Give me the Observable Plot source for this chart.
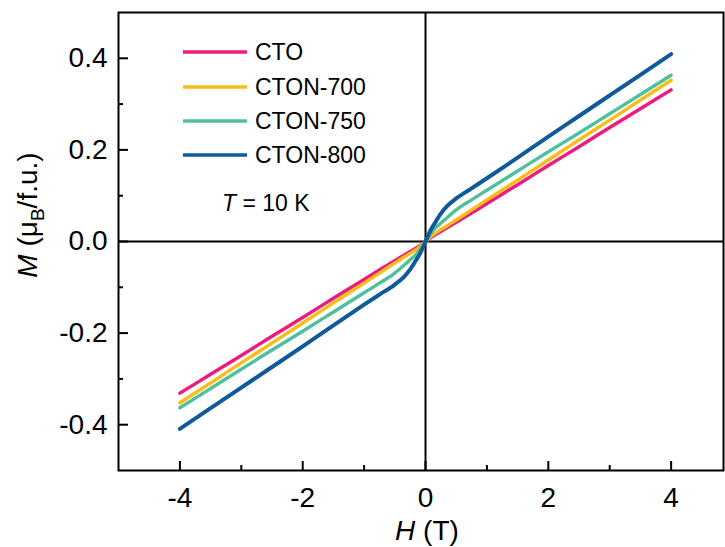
<!DOCTYPE html>
<html><head><meta charset="utf-8">
<script src="https://cdn.jsdelivr.net/npm/d3@7"></script>
<script src="https://cdn.jsdelivr.net/npm/@observablehq/plot@0.6"></script>
<style>body{margin:0;background:#fff;} svg{display:block;}</style>
</head><body><div id="chart"></div>
<script>
const H = [-4,-3.5,-3,-2.5,-2,-1.5,-1,-0.75,-0.5,-0.35,-0.25,-0.15,-0.08,0,0.08,0.15,0.25,0.35,0.5,0.75,1,1.5,2,2.5,3,3.5,4];
const M_CTO = [-0.331,-0.290,-0.249,-0.207,-0.166,-0.124,-0.083,-0.062,-0.042,-0.030,-0.022,-0.014,-0.008,0,0.008,0.014,0.022,0.030,0.042,0.062,0.083,0.124,0.166,0.207,0.249,0.290,0.331];
const M_700 = [-0.352,-0.309,-0.265,-0.222,-0.178,-0.134,-0.091,-0.069,-0.047,-0.034,-0.026,-0.017,-0.010,0,0.010,0.017,0.026,0.034,0.047,0.069,0.091,0.134,0.178,0.222,0.265,0.309,0.352];
const M_750 = [-0.363,-0.321,-0.279,-0.237,-0.196,-0.154,-0.112,-0.091,-0.069,-0.052,-0.040,-0.028,-0.016,0,0.016,0.028,0.040,0.052,0.069,0.091,0.112,0.154,0.196,0.237,0.279,0.321,0.363];
const M_800 = [-0.409,-0.364,-0.319,-0.274,-0.229,-0.183,-0.138,-0.116,-0.094,-0.077,-0.061,-0.040,-0.024,0,0.024,0.040,0.061,0.077,0.094,0.116,0.138,0.183,0.229,0.274,0.319,0.364,0.409];
const seriesNames = ["CTO","CTON-700","CTON-750","CTON-800"];
const seriesColors = ["#EE1A7C","#F8BD18","#4FC09B","#0E5A9A"];
const seriesWidths = [3.4, 3.4, 3.4, 4];
const seriesValues = [M_CTO, M_700, M_750, M_800];
const xMajor = [-4,-2,0,2,4];
const xMinor = [-3,-1,1,3];
const yMajor = [-0.4,-0.2,0,0.2,0.4];
const yMinor = [-0.3,-0.1,0.1,0.3];

const rows = [];
seriesNames.forEach((s,i) => H.forEach((h,j) => rows.push({series:s, H:h, M:seriesValues[i][j], w:seriesWidths[i]})));

const W = 725, HT = 547, mL = 118, mR = 2, mT = 12, mB = 77;
const innerW = W - mL - mR, innerH = HT - mT - mB;
const font = "'Liberation Sans', Arial, sans-serif";
const plot = Plot.plot({
  width: W, height: HT,
  marginLeft: mL, marginRight: mR, marginTop: mT, marginBottom: mB,
  x: {domain: [-5, 4.853]},
  y: {domain: [-0.5, 0.5]},
  color: {domain: seriesNames, range: seriesColors},
  style: {fontFamily: font, fontSize: "28px", color: "#000", background: "#fff"},
  marks: [
    Plot.ruleX([0], {stroke: "#000", strokeWidth: 2}),
    Plot.ruleY([0], {stroke: "#000", strokeWidth: 2}),
    ...seriesNames.map((s, i) => Plot.line(rows.filter(r => r.series === s),
      {x: "H", y: "M", stroke: "series", strokeWidth: seriesWidths[i], curve: "monotone-x"})),
    Plot.tickX(xMajor, {x: d => d, stroke: "#000", strokeWidth: 2, insetTop: innerH - 9}),
    Plot.tickX(xMinor, {x: d => d, stroke: "#000", strokeWidth: 2, insetTop: innerH - 5}),
    Plot.tickY(yMajor, {y: d => d, stroke: "#000", strokeWidth: 2, insetRight: innerW - 10}),
    Plot.tickY(yMinor, {y: d => d, stroke: "#000", strokeWidth: 2, insetRight: innerW - 5}),
    Plot.frame({stroke: "#000", strokeWidth: 2}),
    Plot.axisX({ticks: xMajor, tickSize: 0, tickPadding: 17, tickFormat: d => String(d), label: null}),
    Plot.axisY({ticks: yMajor, tickSize: 0, tickPadding: 11, tickFormat: d => d.toFixed(1), label: null})
  ]
});
document.getElementById("chart").appendChild(plot);

const svg = d3.select(plot);
const g = svg.append("g").attr("font-family", font).attr("fill", "#000").attr("text-anchor", "start");
// legend
const legY = [52, 87, 121, 155];
seriesNames.forEach((s, i) => {
  g.append("line").attr("x1", 183).attr("x2", 247).attr("y1", legY[i]).attr("y2", legY[i])
    .attr("stroke", seriesColors[i]).attr("stroke-width", 3.4);
  g.append("text").attr("x", 255).attr("y", legY[i]).attr("dy", "0.36em")
    .attr("font-size", 23).attr("text-anchor", "start").text(s);
});
const t = g.append("text").attr("x", 222).attr("y", 203).attr("dy", "0.36em").attr("font-size", 23).attr("text-anchor", "start");
t.append("tspan").attr("font-style", "italic").text("T");
t.append("tspan").text(" = 10 K");
// x title
const xt = g.append("text").attr("x", 427).attr("y", 540).attr("text-anchor", "middle").attr("font-size", 28);
xt.append("tspan").attr("font-style", "italic").text("H");
xt.append("tspan").text(" (T)");
// y title
const yt = g.append("text").attr("transform", "translate(37,215) rotate(-90)").attr("text-anchor", "middle").attr("font-size", 28);
yt.append("tspan").attr("font-style", "italic").text("M");
yt.append("tspan").text(" (μ");
yt.append("tspan").attr("font-size", 19).attr("dy", 7).text("B");
yt.append("tspan").attr("dy", -7).text("/f.u.)");
</script>
</body></html>
